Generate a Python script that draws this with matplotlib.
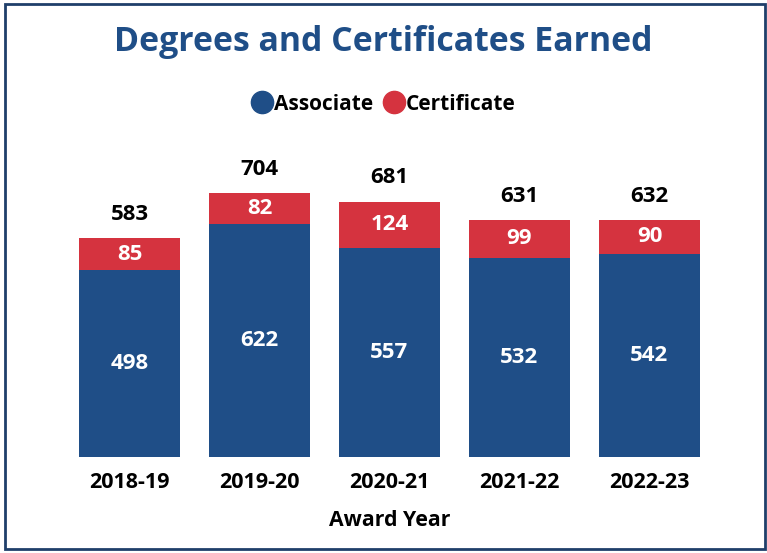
import matplotlib.pyplot as plt
import matplotlib.patches as patches
from matplotlib.lines import Line2D

years = ["2018-19", "2019-20", "2020-21", "2021-22", "2022-23"]
associate = [498, 622, 557, 532, 542]
certificate = [85, 82, 124, 99, 90]

BLUE = "#1F4E87"
RED = "#D5333F"
NAVY = "#1F3F6A"

plt.rcParams['font.family'] = ['Open Sans', 'DejaVu Sans']

W, H = 767, 553
fig = plt.figure(figsize=(W / 100, H / 100), dpi=100)

# axes placed in pixel terms
ax = fig.add_axes([64.5 / W, (H - 457) / H, 650 / W, 300 / H])
x = list(range(len(years)))
totals = [a + c for a, c in zip(associate, certificate)]
ax.bar(x, associate, width=0.777, color=BLUE)
ax.bar(x, certificate, bottom=associate, width=0.777, color=RED)
ax.set_xlim(-0.5, 4.5)
ax.set_ylim(0, 800)

for i in x:
    ax.text(i, associate[i] / 2, str(associate[i]), ha='center', va='center',
            color='white', fontsize=16, fontweight='bold')
    ax.text(i, associate[i] + certificate[i] / 2, str(certificate[i]),
            ha='center', va='center', color='white', fontsize=16,
            fontweight='bold')
    ax.annotate(str(totals[i]), (i, totals[i]), xytext=(0, 24),
                textcoords='offset pixels', ha='center', va='center',
                fontsize=16, fontweight='bold', color='black')

ax.set_xticks(x)
ax.set_xticklabels(years, fontsize=15.5, fontweight='bold')
ax.tick_params(axis='x', length=0, pad=11)
ax.set_yticks([])
for s in ax.spines.values():
    s.set_visible(False)
ax.set_xlabel("Award Year", fontsize=15.3, fontweight='bold', labelpad=12)

fig.text(0.5, 1 - 42 / H, "Degrees and Certificates Earned", ha='center',
         va='center', fontsize=24.4, fontweight='bold', color=BLUE)

handles = [Line2D([], [], marker='o', linestyle='', markersize=16,
                  markerfacecolor=BLUE, markeredgecolor=BLUE),
           Line2D([], [], marker='o', linestyle='', markersize=16,
                  markerfacecolor=RED, markeredgecolor=RED)]
leg = fig.legend(handles, ["Associate", "Certificate"], loc='center',
                 bbox_to_anchor=(0.5, 1 - 104 / H), ncol=2, frameon=False,
                 handletextpad=0.05, columnspacing=0.5, handlelength=1.0,
                 prop={'size': 15, 'weight': 'bold'})

fig.add_artist(patches.Rectangle((5 / W, 4 / H), 760 / W, 545 / H,
                                 transform=fig.transFigure, fill=False,
                                 edgecolor=NAVY, linewidth=2))

fig.savefig("out.png", dpi=100)
